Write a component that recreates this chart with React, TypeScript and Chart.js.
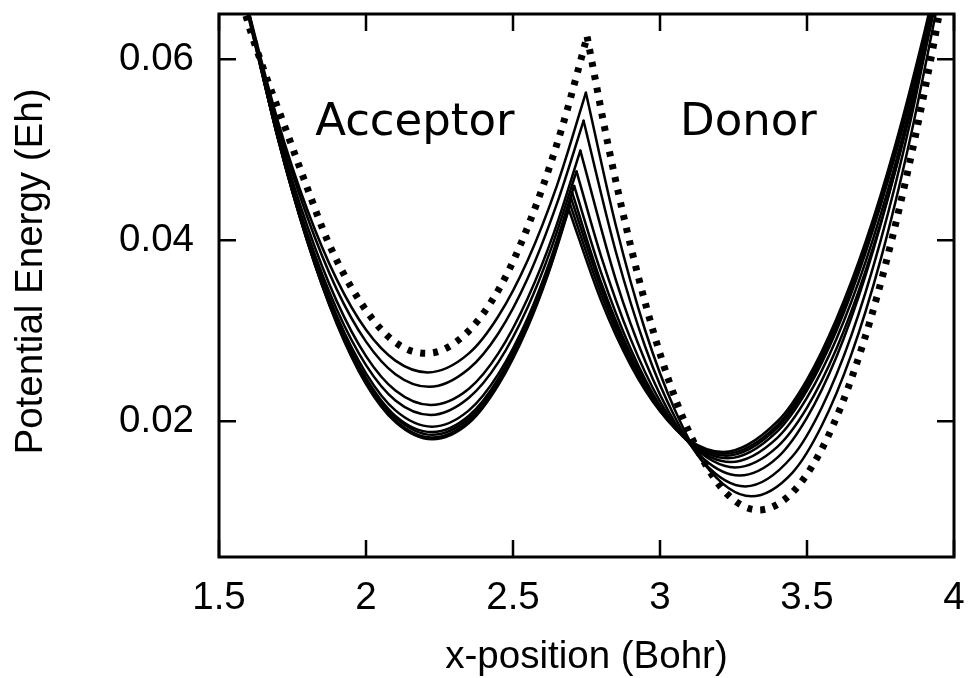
import React, { useEffect, useRef } from 'react';
import { Chart, registerables } from 'chart.js';

Chart.register(...registerables);

type Pt = [number, number];

// ---- axis ticks / labels ----
const X_TICKS = [1.5, 2, 2.5, 3, 3.5, 4];
const X_TICK_LABELS = ['1.5', '2', '2.5', '3', '3.5', '4'];
const Y_TICKS = [0.02, 0.04, 0.06];
const Y_TICK_LABELS = ['0.02', '0.04', '0.06'];
const X_MIN = 1.5;
const X_MAX = 4;
const Y_MIN = 0.005;
const Y_MAX = 0.065;

const X_TITLE = 'x-position (Bohr)';
const Y_TITLE = 'Potential Energy (Eh)';
const NOTE_TEXT = ['Acceptor', 'Donor'];
const NOTE_X = [1.827, 3.068];
const NOTE_Y = [0.0516, 0.0516];

// ---- dotted curve (left well branch up to barrier top, right well branch from it) ----
const D_LEFT: Pt[] = [[1.56, 0.069], [1.59, 0.065], [1.645, 0.0595], [1.73, 0.052], [1.8, 0.0458], [1.87, 0.0399], [1.95, 0.0348], [2.05, 0.0302], [2.13, 0.0281], [2.205, 0.0275], [2.28, 0.0282], [2.38, 0.0311], [2.48, 0.0363], [2.58, 0.044], [2.67, 0.0528], [2.752, 0.0625]];
const D_RIGHT: Pt[] = [[2.752, 0.0625], [2.83, 0.0495], [2.93, 0.0355], [3.03, 0.0245], [3.13, 0.0167], [3.23, 0.0119], [3.335, 0.0102], [3.44, 0.0118], [3.54, 0.0163], [3.64, 0.0237], [3.74, 0.034], [3.84, 0.0472], [3.92, 0.0598], [3.97, 0.0687]];

// ---- solid curves ----
const S1_LEFT: Pt[] = [[1.58, 0.0679], [1.7, 0.0532], [1.8, 0.0434], [1.9, 0.0357], [2.0, 0.0301], [2.1, 0.0267], [2.21, 0.0254], [2.35, 0.0275], [2.45, 0.0316], [2.55, 0.0378], [2.65, 0.0461], [2.748, 0.0563]];
const S1_RIGHT: Pt[] = [[2.748, 0.0563], [2.85, 0.0416], [2.95, 0.03], [3.05, 0.0213], [3.15, 0.0153], [3.31, 0.0117], [3.45, 0.0143], [3.55, 0.0195], [3.65, 0.0273], [3.75, 0.0378], [3.85, 0.0511], [3.95, 0.067]];
const S2_LEFT: Pt[] = [[1.58, 0.0678], [1.7, 0.0527], [1.8, 0.0426], [1.9, 0.0346], [2.0, 0.0288], [2.1, 0.0252], [2.215, 0.0238], [2.35, 0.0258], [2.45, 0.0297], [2.55, 0.0358], [2.65, 0.0441], [2.74, 0.0532]];
const S2_RIGHT: Pt[] = [[2.74, 0.0532], [2.85, 0.0387], [2.95, 0.0282], [3.05, 0.0205], [3.15, 0.0154], [3.29, 0.0128], [3.45, 0.0161], [3.55, 0.0215], [3.65, 0.0294], [3.75, 0.0399], [3.85, 0.0529], [3.95, 0.0686]];
const S3_LEFT: Pt[] = [[1.58, 0.0677], [1.7, 0.0521], [1.8, 0.0416], [1.9, 0.0333], [2.0, 0.0272], [2.1, 0.0234], [2.22, 0.0218], [2.35, 0.0236], [2.45, 0.0275], [2.55, 0.0336], [2.64, 0.0409], [2.729, 0.0499]];
const S3_RIGHT: Pt[] = [[2.729, 0.0499], [2.85, 0.0356], [2.95, 0.0266], [3.05, 0.0199], [3.15, 0.0158], [3.27, 0.014], [3.4, 0.016], [3.5, 0.0204], [3.6, 0.0271], [3.7, 0.0362], [3.8, 0.0477], [3.9, 0.0616], [3.95, 0.0695]];
const S4_LEFT: Pt[] = [[1.58, 0.0674], [1.7, 0.0515], [1.8, 0.0408], [1.9, 0.0324], [2.0, 0.0262], [2.1, 0.0223], [2.22, 0.0207], [2.35, 0.0226], [2.45, 0.0265], [2.55, 0.0326], [2.63, 0.0391], [2.716, 0.0476]];
const S4_RIGHT: Pt[] = [[2.716, 0.0476], [2.8, 0.0382], [2.9, 0.0291], [3.0, 0.0222], [3.1, 0.0176], [3.255, 0.0149], [3.4, 0.0172], [3.5, 0.0215], [3.6, 0.028], [3.7, 0.0367], [3.8, 0.0476], [3.9, 0.0607], [3.96, 0.0696]];
const S5_LEFT: Pt[] = [[1.58, 0.0677], [1.7, 0.0514], [1.8, 0.0404], [1.9, 0.0317], [2.0, 0.0253], [2.1, 0.0212], [2.225, 0.0194], [2.35, 0.0212], [2.45, 0.0252], [2.55, 0.0314], [2.63, 0.0381], [2.708, 0.046]];
const S5_RIGHT: Pt[] = [[2.708, 0.046], [2.8, 0.0364], [2.9, 0.028], [3.0, 0.0217], [3.1, 0.0176], [3.24, 0.0155], [3.4, 0.0182], [3.5, 0.0226], [3.6, 0.0291], [3.7, 0.0377], [3.8, 0.0484], [3.9, 0.0612], [3.97, 0.0715]];
const S6_LEFT: Pt[] = [[1.58, 0.0679], [1.7, 0.0513], [1.8, 0.0401], [1.9, 0.0313], [2.0, 0.0248], [2.1, 0.0206], [2.225, 0.0188], [2.35, 0.0206], [2.45, 0.0247], [2.55, 0.0311], [2.63, 0.0378], [2.702, 0.0452]];
const S6_RIGHT: Pt[] = [[2.702, 0.0452], [2.8, 0.0353], [2.9, 0.0274], [3.0, 0.0215], [3.1, 0.0177], [3.23, 0.0159], [3.4, 0.0189], [3.5, 0.0234], [3.6, 0.03], [3.7, 0.0387], [3.8, 0.0494], [3.9, 0.0621], [3.97, 0.0723]];
const S7_LEFT: Pt[] = [[1.58, 0.068], [1.7, 0.0513], [1.8, 0.04], [1.9, 0.0311], [2.0, 0.0245], [2.1, 0.0204], [2.225, 0.0185], [2.35, 0.0203], [2.45, 0.0244], [2.55, 0.0308], [2.63, 0.0376], [2.698, 0.0446]];
const S7_RIGHT: Pt[] = [[2.698, 0.0446], [2.8, 0.0347], [2.9, 0.027], [3.0, 0.0214], [3.1, 0.0178], [3.225, 0.0162], [3.4, 0.0193], [3.5, 0.0238], [3.6, 0.0304], [3.7, 0.039], [3.8, 0.0496], [3.9, 0.0622], [3.97, 0.0723]];
const S8_LEFT: Pt[] = [[1.58, 0.0681], [1.7, 0.0513], [1.8, 0.0399], [1.9, 0.0309], [2.0, 0.0243], [2.1, 0.0201], [2.225, 0.0182], [2.35, 0.02], [2.45, 0.0241], [2.55, 0.0306], [2.63, 0.0374], [2.694, 0.044]];
const S8_RIGHT: Pt[] = [[2.694, 0.044], [2.8, 0.034], [2.9, 0.0266], [3.0, 0.0212], [3.1, 0.0178], [3.22, 0.0164], [3.4, 0.0196], [3.5, 0.0242], [3.6, 0.0308], [3.7, 0.0394], [3.8, 0.05], [3.9, 0.0626], [3.97, 0.0727]];
const S9_LEFT: Pt[] = [[1.58, 0.0683], [1.7, 0.0514], [1.8, 0.0399], [1.9, 0.0308], [2.0, 0.0241], [2.1, 0.0199], [2.225, 0.018], [2.35, 0.0198], [2.45, 0.024], [2.55, 0.0304], [2.62, 0.0363], [2.69, 0.0434]];
const S9_RIGHT: Pt[] = [[2.69, 0.0434], [2.8, 0.0333], [2.9, 0.0262], [3.0, 0.0211], [3.1, 0.0179], [3.215, 0.0166], [3.4, 0.02], [3.5, 0.0246], [3.6, 0.0313], [3.7, 0.0399], [3.8, 0.0505], [3.9, 0.0631], [3.97, 0.073]];

const SOLID_BRANCHES: Pt[][] = [
  S1_LEFT, S1_RIGHT, S2_LEFT, S2_RIGHT, S3_LEFT, S3_RIGHT, S4_LEFT, S4_RIGHT,
  S5_LEFT, S5_RIGHT, S6_LEFT, S6_RIGHT, S7_LEFT, S7_RIGHT, S8_LEFT, S8_RIGHT,
  S9_LEFT, S9_RIGHT,
];
const DOTTED_BRANCHES: Pt[][] = [D_LEFT, D_RIGHT];

const SANS = '"Liberation Sans", Arial, Helvetica, sans-serif';
const TICK_LEN = 17;

const framePlugin = {
  id: 'gnuFrame',
  afterDatasetsDraw(chart: any) {
    const { ctx, chartArea } = chart;
    const { left, right, top, bottom } = chartArea;
    const xs = chart.scales.x;
    const ys = chart.scales.y;
    ctx.save();
    ctx.strokeStyle = '#000';
    ctx.lineCap = 'butt';
    ctx.lineWidth = 2.5;
    ctx.beginPath();
    X_TICKS.forEach((v) => {
      const px = xs.getPixelForValue(v);
      ctx.moveTo(px, bottom);
      ctx.lineTo(px, bottom - TICK_LEN);
      ctx.moveTo(px, top);
      ctx.lineTo(px, top + TICK_LEN);
    });
    Y_TICKS.forEach((v) => {
      const py = ys.getPixelForValue(v);
      ctx.moveTo(left, py);
      ctx.lineTo(left + TICK_LEN, py);
      ctx.moveTo(right, py);
      ctx.lineTo(right - TICK_LEN, py);
    });
    ctx.stroke();
    ctx.lineWidth = 3;
    ctx.strokeRect(left, top, right - left, bottom - top);

    ctx.fillStyle = '#000';
    ctx.textBaseline = 'alphabetic';
    ctx.textAlign = 'left';
    ctx.font = '45px "DejaVu Sans", sans-serif';
    NOTE_TEXT.forEach((t, i) => {
      ctx.fillText(t, xs.getPixelForValue(NOTE_X[i]), ys.getPixelForValue(NOTE_Y[i]));
    });

    ctx.font = `38.5px ${SANS}`;
    ctx.textAlign = 'center';
    ctx.fillText(X_TITLE, (left + right) / 2, bottom + 111);
    ctx.save();
    ctx.translate(42, (top + bottom) / 2 - 14);
    ctx.rotate(-Math.PI / 2);
    ctx.fillText(Y_TITLE, 0, 0);
    ctx.restore();
    ctx.restore();
  },
};

const zeroPad = (s: any) => {
  s.paddingTop = 0;
  s.paddingBottom = 0;
  s.paddingLeft = 0;
  s.paddingRight = 0;
};

export default function App() {
  const ref = useRef<HTMLCanvasElement | null>(null);

  useEffect(() => {
    if (!ref.current) return;
    const toXY = (pts: Pt[]) => pts.map(([x, y]) => ({ x, y }));
    const base = {
      borderColor: '#000',
      backgroundColor: '#000',
      pointRadius: 0,
      pointHoverRadius: 0,
      fill: false,
      cubicInterpolationMode: 'monotone' as const,
      clip: 0,
    };
    const datasets: any[] = [
      ...DOTTED_BRANCHES.map((b) => ({
        ...base,
        data: toXY(b),
        borderWidth: 7,
        borderDash: [5, 8],
        borderCapStyle: 'butt',
      })),
      ...SOLID_BRANCHES.map((b) => ({
        ...base,
        data: toXY(b),
        borderWidth: 2.5,
        borderCapStyle: 'round',
        borderJoinStyle: 'round',
      })),
    ];

    const chart = new Chart(ref.current, {
      type: 'line',
      data: { datasets },
      options: {
        responsive: false,
        animation: false,
        devicePixelRatio: 1,
        parsing: false as any,
        layout: { padding: { left: 0, right: 19, top: 14, bottom: 0 } },
        plugins: { legend: { display: false }, tooltip: { enabled: false } },
        events: [],
        scales: {
          x: {
            type: 'linear',
            min: X_MIN,
            max: X_MAX,
            grid: { display: false, drawTicks: false },
            border: { display: false },
            afterBuildTicks: (s: any) => {
              s.ticks = X_TICKS.map((v) => ({ value: v }));
            },
            afterFit: (s: any) => {
              s.height = 121;
              zeroPad(s);
            },
            ticks: {
              color: '#000',
              padding: 18,
              maxRotation: 0,
              autoSkip: false,
              font: { family: SANS, size: 38.5 },
              callback: (v: any) => X_TICK_LABELS[X_TICKS.indexOf(Number(v))] ?? '',
            },
          },
          y: {
            type: 'linear',
            min: Y_MIN,
            max: Y_MAX,
            grid: { display: false, drawTicks: false },
            border: { display: false },
            afterBuildTicks: (s: any) => {
              s.ticks = Y_TICKS.map((v) => ({ value: v }));
            },
            afterFit: (s: any) => {
              s.width = 219;
              zeroPad(s);
            },
            ticks: {
              color: '#000',
              padding: 25,
              autoSkip: false,
              font: { family: SANS, size: 38.5 },
              callback: (v: any) => {
                const i = Y_TICKS.findIndex((t) => Math.abs(t - Number(v)) < 1e-9);
                return i >= 0 ? Y_TICK_LABELS[i] : '';
              },
            },
          },
        },
      },
      plugins: [framePlugin],
    });
    return () => chart.destroy();
  }, []);

  return (
    <div style={{ position: 'fixed', left: 0, top: 0, width: 973, height: 678, background: '#fff' }}>
      <canvas ref={ref} width={973} height={678} style={{ display: 'block', width: 973, height: 678 }} />
    </div>
  );
}
